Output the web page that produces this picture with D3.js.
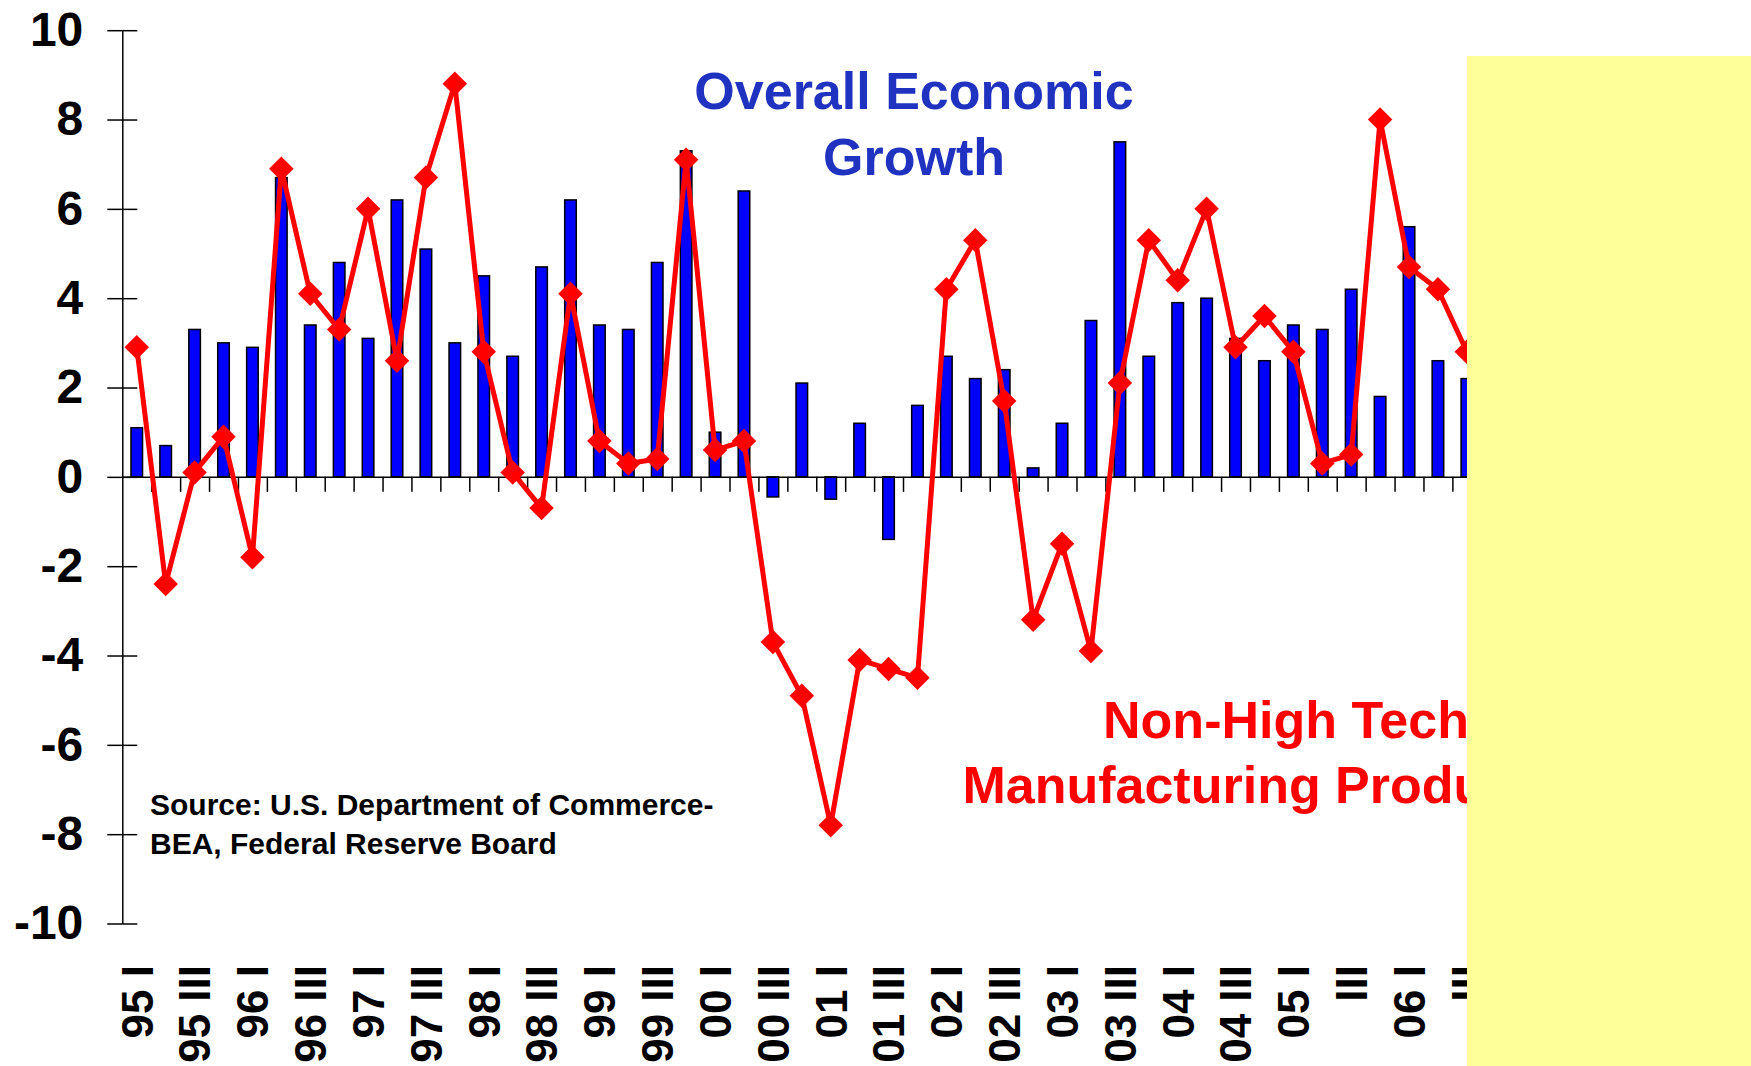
<!DOCTYPE html>
<html>
<head>
<meta charset="utf-8">
<script src="https://cdn.jsdelivr.net/npm/d3@7"></script>
<style>
    body { margin: 0; background: #fff; }
    svg { display: block; font-family: "Liberation Sans", Arial, sans-serif; }
</style>
</head>
<body>
<div id="chart"></div>
<script>
// Overall economic growth vs non-high-tech manufacturing production

// Quarters 95 I .. 06 III
const quarters = [];
const romans = ['I', 'II', 'III', 'IV'];
for (let yr = 95; yr <= 106; yr++) {
    romans.forEach(q => {
        if (quarters.length < 47) quarters.push(String(yr % 100).padStart(2, '0') + ' ' + q);
    });
}

// Tick labels shown on every other quarter
const tickLabels = ['95 I', '95 III', '96 I', '96 III', '97 I', '97 III', '98 I', '98 III',
    '99 I', '99 III', '00 I', '00 III', '01 I', '01 III', '02 I', '02 III',
    '03 I', '03 III', '04 I', '04 III', '05 I', 'III', '06 I', 'III'];

// Overall economic growth (bars)
const gdpGrowth = [1.1, 0.7, 3.3, 3.0, 2.9, 6.7, 3.4, 4.8, 3.1, 6.2,
    5.1, 3.0, 4.5, 2.7, 4.7, 6.2, 3.4, 3.3, 4.8, 7.3,
    1.0, 6.4, -0.45, 2.1, -0.5, 1.2, -1.4, 1.6, 2.7, 2.2,
    2.4, 0.2, 1.2, 3.5, 7.5, 2.7, 3.9, 4.0, 3.1, 2.6,
    3.4, 3.3, 4.2, 1.8, 5.6, 2.6, 2.2];

// Non-high tech manufacturing production (line)
const nonHighTech = [2.9, -2.4, 0.1, 0.9, -1.8, 6.9, 4.1, 3.3, 6.0, 2.6,
    6.7, 8.8, 2.8, 0.1, -0.7, 4.1, 0.8, 0.3, 0.4, 7.1,
    0.6, 0.8, -3.7, -4.9, -7.8, -4.1, -4.3, -4.5, 4.2, 5.3,
    1.7, -3.2, -1.5, -3.9, 2.1, 5.3, 4.4, 6.0, 2.9, 3.6,
    2.8, 0.3, 0.5, 8.0, 4.7, 4.2, 2.8];

const yTicks = d3.range(-10, 11, 2);

const config = {
    width: 1751,
    height: 1066,
    left: 122.3,
    right: 1481.3,
    top: 30.2,
    bottom: 923.5,
    colors: {
        bar: '#0000FF',
        line: '#FF0000',
        title: '#1F32C0',
        cover: '#FFFF99'
    }
};

const svg = d3.select('#chart').append('svg')
    .attr('width', config.width)
    .attr('height', config.height);

const x = d3.scaleBand()
    .domain(quarters)
    .range([config.left, config.right])
    .paddingInner(0.6)
    .paddingOuter(0.3);

// index scale for the category boundary ticks
const xIdx = d3.scaleLinear()
    .domain([0, quarters.length])
    .range([config.left, config.right]);

const y = d3.scaleLinear()
    .domain([-10, 10])
    .range([config.bottom, config.top]);

const cx = d => x(d) + x.bandwidth() / 2;

// Bars
svg.append('g')
    .selectAll('rect')
    .data(gdpGrowth)
    .enter()
    .append('rect')
    .attr('x', (d, i) => x(quarters[i]))
    .attr('y', d => y(Math.max(0, d)))
    .attr('width', x.bandwidth())
    .attr('height', d => Math.abs(y(d) - y(0)))
    .attr('fill', config.colors.bar)
    .attr('stroke', '#000')
    .attr('stroke-width', 1.5);

// X axis line with boundary ticks
const xAxis = svg.append('g')
    .attr('transform', `translate(0,${y(0)})`)
    .call(d3.axisBottom(xIdx)
        .tickValues(d3.range(1, quarters.length))
        .tickSize(15)
        .tickSizeOuter(0)
        .tickFormat(''));
xAxis.selectAll('path, line').attr('stroke', '#000').attr('stroke-width', 1.5);

// Y axis, ticks crossing the line
const yAxis = svg.append('g')
    .attr('transform', `translate(${config.left},0)`)
    .call(d3.axisLeft(y)
        .tickValues(yTicks)
        .tickSize(15)
        .tickSizeOuter(0)
        .tickPadding(24)
        .tickFormat(d => String(d)));
yAxis.selectAll('path, line').attr('stroke', '#000').attr('stroke-width', 1.5);
yAxis.selectAll('text')
    .style('font-family', '"Liberation Sans", Arial, sans-serif')
    .style('font-size', '48px')
    .style('font-weight', 'bold')
    .attr('fill', '#000');

const yAxisRight = svg.append('g')
    .attr('transform', `translate(${config.left},0)`)
    .call(d3.axisRight(y)
        .tickValues(yTicks)
        .tickSize(15)
        .tickFormat(''));
yAxisRight.select('.domain').remove();
yAxisRight.selectAll('line').attr('stroke', '#000').attr('stroke-width', 1.5);

// Category labels, rotated
const labelAxis = svg.append('g')
    .attr('transform', 'translate(0,965)')
    .call(d3.axisBottom(x)
        .tickValues(quarters.filter((d, i) => i % 2 === 0))
        .tickSize(0)
        .tickFormat((d, i) => tickLabels[i]));
labelAxis.select('.domain').remove();
labelAxis.selectAll('text')
    .attr('transform', 'rotate(-90)')
    .attr('x', 0)
    .attr('y', 0)
    .attr('dy', '0.36em')
    .attr('text-anchor', 'end')
    .attr('fill', '#000')
    .style('font-family', '"Liberation Sans", Arial, sans-serif')
    .style('font-size', '44px')
    .style('font-weight', 'bold');

// Line series
const line = d3.line()
    .x((d, i) => cx(quarters[i]))
    .y(d => y(d));

svg.append('path')
    .datum(nonHighTech)
    .attr('d', line)
    .attr('fill', 'none')
    .attr('stroke', config.colors.line)
    .attr('stroke-width', 5)
    .attr('stroke-linejoin', 'round');

const diamond = d3.symbol().type(d3.symbolSquare).size(300);
svg.append('g')
    .selectAll('path')
    .data(nonHighTech)
    .enter()
    .append('path')
    .attr('d', diamond)
    .attr('transform', (d, i) => `translate(${cx(quarters[i])},${y(d)}) rotate(45)`)
    .attr('fill', config.colors.line);

// Annotations
const title = svg.append('text')
    .attr('text-anchor', 'middle')
    .attr('fill', config.colors.title)
    .style('font-size', '52px')
    .style('font-weight', 'bold');
title.append('tspan').attr('x', 914).attr('y', 109).text('Overall Economic');
title.append('tspan').attr('x', 914).attr('y', 175).text('Growth');

const redLabel = svg.append('text')
    .attr('text-anchor', 'middle')
    .attr('fill', config.colors.line)
    .style('font-size', '52px')
    .style('font-weight', 'bold');
redLabel.append('tspan').attr('x', 1286).attr('y', 738).text('Non-High Tech');
redLabel.append('tspan').attr('x', 1286).attr('y', 803).text('Manufacturing Production');

const source = svg.append('text')
    .attr('fill', '#000')
    .style('font-size', '30px')
    .style('font-weight', 'bold');
source.append('tspan').attr('x', 150).attr('y', 815).text('Source: U.S. Department of Commerce-');
source.append('tspan').attr('x', 150).attr('y', 854).text('BEA, Federal Reserve Board');

// Yellow panel covering the right side
svg.append('rect')
    .attr('x', 1467)
    .attr('y', 56)
    .attr('width', config.width - 1467)
    .attr('height', config.height - 56)
    .attr('fill', config.colors.cover);
</script>
</body>
</html>
